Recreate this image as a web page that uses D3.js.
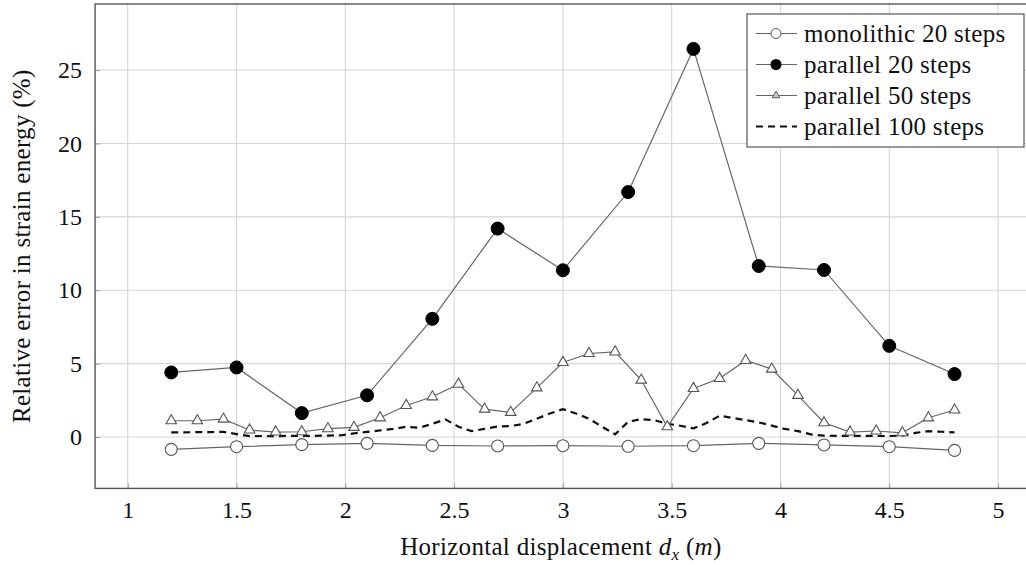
<!DOCTYPE html>
<html>
<head>
<meta charset="utf-8">
<script src="https://cdn.jsdelivr.net/npm/d3@7/dist/d3.min.js"></script>
<style>
    html, body { margin: 0; padding: 0; background: #fff; }
    svg text { font-family: "Times New Roman", "Liberation Serif", "DejaVu Serif", Tinos, serif; fill: #111; }
</style>
</head>
<body>
<svg id="chart" width="1026" height="565" style="font-family: 'Times New Roman', 'Liberation Serif', 'DejaVu Serif', serif"></svg>
<script>
'use strict';

// x positions (m)
var x20  = [1.2, 1.5, 1.8, 2.1, 2.4, 2.7, 3.0, 3.3, 3.6, 3.9, 4.2, 4.5, 4.8];
var x50  = [1.2, 1.32, 1.44, 1.56, 1.68, 1.8, 1.92, 2.04, 2.16, 2.28, 2.4, 2.52, 2.64, 2.76, 2.88,
            3.0, 3.12, 3.24, 3.36, 3.48, 3.6, 3.72, 3.84, 3.96, 4.08, 4.2, 4.32, 4.44, 4.56, 4.68, 4.8];
var x100 = [1.2, 1.26, 1.32, 1.38, 1.44, 1.5, 1.56, 1.62, 1.68, 1.74, 1.8, 1.86, 1.92, 1.98, 2.04,
            2.1, 2.16, 2.22, 2.28, 2.34, 2.4, 2.46, 2.52, 2.58, 2.64, 2.7, 2.76, 2.82, 2.88, 2.94,
            3.0, 3.06, 3.12, 3.18, 3.24, 3.3, 3.36, 3.42, 3.48, 3.54, 3.6, 3.66, 3.72, 3.78, 3.84,
            3.9, 3.96, 4.02, 4.08, 4.14, 4.2, 4.26, 4.32, 4.38, 4.44, 4.5, 4.56, 4.62, 4.68, 4.74, 4.8];

// relative error (%)
var monolithic20 = [-0.84, -0.66, -0.52, -0.43, -0.57, -0.61, -0.59, -0.63, -0.59, -0.43, -0.54, -0.66, -0.91];
var parallel20   = [4.40, 4.74, 1.63, 2.84, 8.05, 14.2, 11.36, 16.69, 26.44, 11.65, 11.38, 6.21, 4.29];
var parallel50   = [1.11, 1.11, 1.22, 0.48, 0.34, 0.36, 0.57, 0.66, 1.31, 2.15, 2.74, 3.6, 1.9, 1.68, 3.35,
                    5.08, 5.69, 5.80, 3.88, 0.70, 3.31, 3.99, 5.22, 4.63, 2.84, 0.97, 0.34, 0.41, 0.29, 1.31, 1.84];
var parallel100  = [0.32, 0.32, 0.33, 0.34, 0.35, 0.20, 0.06, 0.07, 0.06, 0.08, 0.07, 0.08, 0.10, 0.12, 0.25,
                    0.35, 0.45, 0.55, 0.70, 0.63, 0.90, 1.20, 0.70, 0.40, 0.55, 0.72, 0.75, 0.90, 1.25, 1.60,
                    1.90, 1.60, 1.25, 0.70, 0.18, 1.04, 1.22, 1.15, 0.90, 0.77, 0.59, 0.95, 1.45, 1.30, 1.15,
                    1.00, 0.78, 0.55, 0.40, 0.18, 0.09, 0.08, 0.08, 0.08, 0.07, 0.07, 0.10, 0.28, 0.40, 0.36, 0.32];

var xTicks = [1, 1.5, 2, 2.5, 3, 3.5, 4, 4.5, 5];
var yTicks = [0, 5, 10, 15, 20, 25];
var legendLabels = ["monolithic 20 steps", "parallel 20 steps", "parallel 50 steps", "parallel 100 steps"];

function zip(xs, ys) {
    return xs.map(function(x, i) { return {x: x, y: ys[i]}; });
}

function drawChart(svgSel) {
    var svg = d3.select(svgSel);

    var x = d3.scaleLinear().domain([0.85, 5.15]).range([95.1, 1030.7]),
        y = d3.scaleLinear().domain([-3.5, 29.5]).range([488.4, 4.0]);

    var left = x.range()[0], right = x.range()[1],
        top = y.range()[1], bottom = y.range()[0];

    // grid
    var grid = svg.append("g").attr("class", "grid");
    grid.selectAll("line.gx").data(xTicks).enter().append("line")
        .attr("x1", function(d) { return x(d); }).attr("x2", function(d) { return x(d); })
        .attr("y1", top).attr("y2", bottom)
        .attr("stroke", "#d6d6d6").attr("stroke-width", 1.1);
    grid.selectAll("line.gy").data(yTicks).enter().append("line")
        .attr("y1", function(d) { return y(d); }).attr("y2", function(d) { return y(d); })
        .attr("x1", left).attr("x2", right)
        .attr("stroke", "#d6d6d6").attr("stroke-width", 1.1);

    // axes (ticks inward, labels outside)
    var xAxis = d3.axisBottom(x).tickValues(xTicks).tickSize(-5).tickPadding(13)
        .tickFormat(function(d) { return String(d); });
    var yAxis = d3.axisLeft(y).tickValues(yTicks).tickSize(-5).tickPadding(13)
        .tickFormat(function(d) { return String(d); });

    var gx = svg.append("g").attr("transform", "translate(0," + bottom + ")").call(xAxis);
    var gy = svg.append("g").attr("transform", "translate(" + left + ",0)").call(yAxis);
    [gx, gy].forEach(function(g) {
        g.attr("font-family", null).attr("font-size", null);
        g.select(".domain").remove();
        g.selectAll(".tick line").attr("stroke", "#999");
        g.selectAll(".tick text").attr("font-size", 24).attr("fill", "#111");
    });

    // frame
    svg.append("rect")
        .attr("x", left).attr("y", top)
        .attr("width", right - left).attr("height", bottom - top)
        .attr("fill", "none").attr("stroke", "#555").attr("stroke-width", 1.4);

    // series lines
    var line = d3.line().x(function(d) { return x(d.x); }).y(function(d) { return y(d.y); });

    var plot = svg.append("g").attr("class", "plot");

    plot.append("path").datum(zip(x100, parallel100))
        .attr("d", line).attr("fill", "none")
        .attr("stroke", "#111").attr("stroke-width", 2.2).attr("stroke-dasharray", "7,5");

    plot.append("path").datum(zip(x50, parallel50))
        .attr("d", line).attr("fill", "none").attr("stroke", "#666").attr("stroke-width", 1.2);
    plot.append("path").datum(zip(x20, monolithic20))
        .attr("d", line).attr("fill", "none").attr("stroke", "#666").attr("stroke-width", 1.2);
    plot.append("path").datum(zip(x20, parallel20))
        .attr("d", line).attr("fill", "none").attr("stroke", "#666").attr("stroke-width", 1.2);

    // markers
    var tri = d3.symbol().type(d3.symbolTriangle).size(48);
    plot.selectAll("path.tri").data(zip(x50, parallel50)).enter().append("path")
        .attr("class", "tri")
        .attr("d", tri)
        .attr("transform", function(d) { return "translate(" + x(d.x) + "," + y(d.y) + ")"; })
        .attr("fill", "#fff").attr("stroke", "#555").attr("stroke-width", 1.1);

    plot.selectAll("circle.mono").data(zip(x20, monolithic20)).enter().append("circle")
        .attr("class", "mono")
        .attr("cx", function(d) { return x(d.x); }).attr("cy", function(d) { return y(d.y); })
        .attr("r", 6).attr("fill", "#fff").attr("stroke", "#555").attr("stroke-width", 1.1);

    plot.selectAll("circle.par").data(zip(x20, parallel20)).enter().append("circle")
        .attr("class", "par")
        .attr("cx", function(d) { return x(d.x); }).attr("cy", function(d) { return y(d.y); })
        .attr("r", 6.5).attr("fill", "#000").attr("stroke", "#000");

    // legend
    var lg = svg.append("g").attr("class", "legend").attr("transform", "translate(747,14)");
    lg.append("rect").attr("width", 277).attr("height", 133)
        .attr("fill", "#fff").attr("stroke", "#555").attr("stroke-width", 1.2);

    var rows = lg.selectAll("g.row").data(legendLabels).enter().append("g")
        .attr("class", "row")
        .attr("transform", function(d, i) { return "translate(0," + (19.5 + i * 31) + ")"; });

    rows.append("line")
        .attr("x1", 9).attr("x2", 50).attr("y1", 0).attr("y2", 0)
        .attr("stroke", function(d, i) { return i == 3 ? "#111" : "#666"; })
        .attr("stroke-width", function(d, i) { return i == 3 ? 2.2 : 1.2; })
        .attr("stroke-dasharray", function(d, i) { return i == 3 ? "7,5" : null; });

    rows.each(function(d, i) {
        var r = d3.select(this);
        if (i == 0) {
            r.append("circle").attr("cx", 29).attr("r", 5)
                .attr("fill", "#fff").attr("stroke", "#555").attr("stroke-width", 1);
        } else if (i == 1) {
            r.append("circle").attr("cx", 29).attr("r", 5.5).attr("fill", "#000");
        } else if (i == 2) {
            r.append("path").attr("d", d3.symbol().type(d3.symbolTriangle).size(26))
                .attr("transform", "translate(29,0)")
                .attr("fill", "#ccc").attr("stroke", "#555").attr("stroke-width", 1);
        }
    });

    rows.append("text")
        .attr("x", 57).attr("y", 8)
        .attr("font-size", 25).attr("letter-spacing", 0.3)
        .text(function(d) { return d; });

    // axis titles
    var xt = svg.append("text")
        .attr("x", (left + right) / 2 - 2).attr("y", 555)
        .attr("text-anchor", "middle").attr("font-size", 25).attr("letter-spacing", 0.3);
    xt.append("tspan").text("Horizontal displacement ");
    xt.append("tspan").attr("font-style", "italic").text("d");
    xt.append("tspan").attr("font-style", "italic").attr("font-size", 17).attr("dy", 5).text("x");
    xt.append("tspan").attr("dy", -5).text(" (");
    xt.append("tspan").attr("font-style", "italic").text("m");
    xt.append("tspan").text(")");

    svg.append("text")
        .attr("transform", "translate(30," + ((top + bottom) / 2) + ") rotate(-90)")
        .attr("text-anchor", "middle").attr("font-size", 25).attr("letter-spacing", 0.3)
        .text("Relative error in strain energy (%)");
}

drawChart("#chart");
</script>
</body>
</html>
